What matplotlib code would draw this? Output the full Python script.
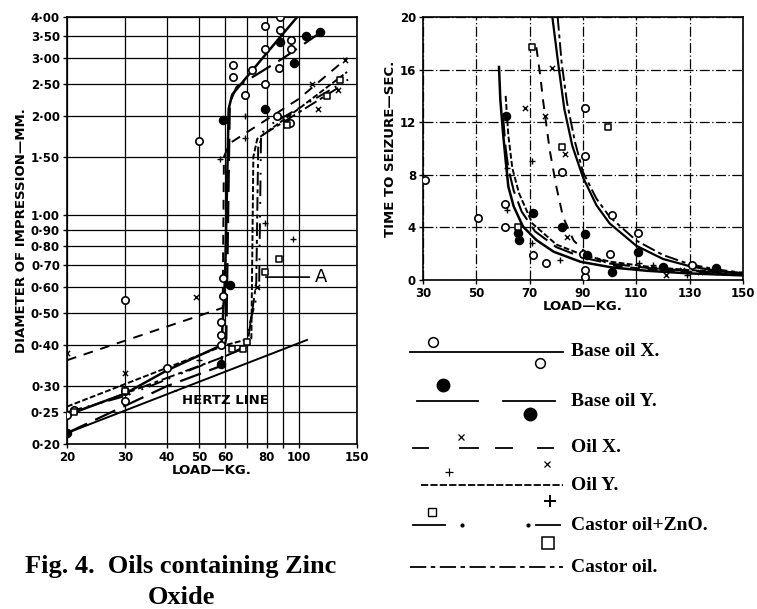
import matplotlib
matplotlib.use("Agg")
import matplotlib.pyplot as plt
from matplotlib.ticker import FixedLocator, NullFormatter, NullLocator

# ---------------- left chart: diameter of impression vs load (log-log) ----------------
HERTZ_X = [20, 106]
HERTZ_Y = [0.216, 0.415]

BASE_X_LX = [20, 30, 40, 58.5, 60, 61.5, 63, 80, 100]
BASE_X_LY = [0.245, 0.285, 0.335, 0.40, 0.65, 2.1, 2.32, 3.1, 4.05]
BASE_Y_LX = [20, 40, 58, 60.5, 62, 65, 90, 117]
BASE_Y_LY = [0.216, 0.30, 0.345, 0.42, 2.2, 2.45, 3.0, 3.6]
OIL_X_LX = [20, 59, 59.5, 62, 100, 140]
OIL_X_LY = [0.36, 0.52, 1.5, 1.65, 2.25, 3.0]
OIL_Y_LX = [20, 60, 72, 73, 75, 100, 140]
OIL_Y_LY = [0.26, 0.40, 0.42, 1.5, 1.7, 2.1, 2.72]
CASTOR_ZNO_LX = [20, 30, 68, 76, 77, 80, 143]
CASTOR_ZNO_LY = [0.25, 0.28, 0.39, 0.60, 1.75, 1.85, 2.6]
CASTOR_LX = [20, 60, 70, 74.5, 75.5, 78, 133]
CASTOR_LY = [0.245, 0.37, 0.40, 0.62, 1.6, 1.75, 2.45]

BASE_X_PX = [20, 21, 30, 30, 30, 40, 50, 58.5, 58.5, 58.5, 59, 59, 63.5, 63.5, 69, 72.5,
             79, 79, 79, 86, 88, 88, 87, 94, 95, 95, 101]
BASE_X_PY = [0.245, 0.254, 0.29, 0.27, 0.55, 0.34, 1.68, 0.47, 0.43, 0.40, 0.64, 0.566,
             2.85, 2.62, 2.31, 2.75, 3.75, 3.2, 2.5, 2.0, 4.0, 3.65, 2.8, 1.9, 3.4, 3.2, 4.1]
BASE_Y_PX = [20, 58.5, 59, 62, 79, 88, 96.5, 105, 116]
BASE_Y_PY = [0.216, 0.35, 1.94, 0.61, 2.1, 3.35, 2.9, 3.5, 3.6]
OIL_X_PX = [20, 30, 49, 75, 110, 114, 131, 138]
OIL_X_PY = [0.38, 0.33, 0.56, 0.6, 2.5, 2.1, 2.4, 2.95]
OIL_Y_PX = [50, 58, 69, 69, 79, 80, 96]
OIL_Y_PY = [0.36, 1.48, 1.71, 2.0, 0.94, 2.1, 0.84]
CASTOR_ZNO_PX = [21, 30, 63, 68, 70, 79, 87, 92, 122, 133]
CASTOR_ZNO_PY = [0.25, 0.29, 0.39, 0.39, 0.41, 0.67, 0.73, 1.87, 2.3, 2.57]

LEFT_XTICKS = [20, 30, 40, 50, 60, 80, 100, 150]
LEFT_XMINOR = [70, 90]
LEFT_YTICKS = [0.20, 0.25, 0.30, 0.40, 0.50, 0.60, 0.70, 0.80, 0.90, 1.00,
               1.50, 2.00, 2.50, 3.00, 3.50, 4.00]

# ---------------- right chart: time to seizure vs load ----------------
T_BASE_X_X = [58.5, 59, 60, 61, 62, 64, 67.5, 72.5, 79, 89, 101, 114, 130, 150]
T_BASE_X_Y = [16.2, 13.7, 11.2, 9.1, 7.1, 5.6, 4.06, 3.04, 2.15, 1.39, 0.95, 0.7, 0.5, 0.35]
T_BASE_Y_X = [60, 61, 62, 64, 67, 72, 80, 90, 100, 115, 130, 150]
T_BASE_Y_Y = [12.5, 10, 8.5, 6.8, 5.2, 3.7, 2.5, 1.7, 1.25, 0.9, 0.7, 0.5]
T_OIL_Y_X = [61, 62, 63.5, 66, 71, 80, 90, 100, 115, 130, 150]
T_OIL_Y_Y = [14, 11, 8.5, 6.6, 4.3, 2.7, 1.9, 1.4, 1.0, 0.75, 0.55]
T_OIL_X_X = [72.5, 74, 75, 77.5, 80, 82.5, 86.5, 91.5, 101, 115, 130, 150]
T_OIL_X_Y = [17.7, 15.5, 13.7, 9.9, 7.1, 4.8, 3.0, 2.0, 1.1, 0.8, 0.6, 0.45]
T_CASTOR_ZNO_X = [78.5, 81, 83, 86, 90, 95, 100, 110, 120, 130, 140, 150]
T_CASTOR_ZNO_Y = [20, 16, 13, 10.2, 7.8, 5.7, 4.3, 2.6, 1.6, 1.05, 0.7, 0.5]
T_CASTOR_X = [80.5, 82, 84, 87, 90, 95, 100, 110, 120, 130, 140, 150]
T_CASTOR_Y = [20, 16.5, 13.5, 10.5, 8.2, 6.2, 4.8, 3.0, 1.9, 1.2, 0.8, 0.55]

TB_X_PX = [30.75, 50.75, 60.75, 60.75, 71.4, 76, 82, 90.75, 90.75, 100.75, 110.5, 100,
           130.75, 90.75, 90.75, 90]
TB_X_PY = [7.6, 4.7, 4.06, 5.8, 1.9, 1.27, 8.24, 13.05, 9.4, 4.94, 3.6, 2.0, 1.14, 0.25,
           0.76, 2.0]
TB_Y_PX = [61, 65.75, 66, 71.4, 82, 90.75, 91.4, 101, 110.5, 120, 140]
TB_Y_PY = [12.5, 3.55, 3.04, 5.07, 4.06, 3.5, 1.9, 0.63, 2.15, 1.0, 0.89]
TZNO_PX = [71, 99.5, 82, 65.75]
TZNO_PY = [17.7, 11.6, 10.1, 4.06]
TOX_PX = [68.25, 75.75, 78.25, 83.25, 83.9, 121, 127, 134, 141]
TOX_PY = [13.05, 12.5, 16.1, 9.6, 3.3, 0.38, 0.76, 0.63, 0.63]
TOY_PX = [61.4, 61.4, 71, 71, 81.4, 111, 116.4, 128.9]
TOY_PY = [8.5, 5.3, 9.05, 2.8, 1.5, 1.27, 1.14, 0.38]

RIGHT_XTICKS = [30, 50, 70, 90, 110, 130, 150]
RIGHT_YTICKS = [0, 4, 8, 12, 16, 20]

LEGEND_NAMES = ["Base oil X.", "Base oil Y.", "Oil X.", "Oil Y.", "Castor oil+ZnO.", "Castor oil."]

# line styles
LS_BASE_X = "-"
LS_BASE_Y = (0, (10, 4))
LS_OIL_X = (0, (5, 4))
LS_OIL_Y = (0, (3, 1.2))
LS_ZNO = (0, (8, 3, 1, 6, 1, 3))
LS_CASTOR = (0, (7, 2, 2, 2))

plt.rcParams['font.family'] = ['DejaVu Sans']
fig = plt.figure(figsize=(7.57, 6.09), dpi=100)

# ---------------- left ----------------
ax = fig.add_axes([67/757, 1-444/609, 290/757, 427/609])
ax.set_xscale('log')
ax.set_yscale('log')
ax.set_xlim(20, 150)
ax.set_ylim(0.2, 4.0)
ax.xaxis.set_major_locator(FixedLocator(LEFT_XTICKS))
ax.xaxis.set_minor_locator(FixedLocator(LEFT_XMINOR))
ax.xaxis.set_minor_formatter(NullFormatter())
ax.set_xticklabels([str(v) for v in LEFT_XTICKS])
ax.yaxis.set_major_locator(FixedLocator(LEFT_YTICKS))
ax.yaxis.set_minor_locator(NullLocator())
ax.set_yticklabels([("%.2f" % v).replace(".", "·") for v in LEFT_YTICKS])
ax.grid(True, which='both', color='black', lw=0.9)
ax.tick_params(axis='both', which='both', length=3, width=1, labelsize=8.5, pad=2)
for lab in ax.get_xticklabels() + ax.get_yticklabels():
    lab.set_fontweight('bold')
for s in ax.spines.values():
    s.set_linewidth(1.2)

ax.plot(HERTZ_X, HERTZ_Y, color='black', lw=1.4)
ax.plot(BASE_X_LX, BASE_X_LY, color='black', lw=1.8, ls=LS_BASE_X)
ax.plot(BASE_Y_LX, BASE_Y_LY, color='black', lw=1.6, ls=LS_BASE_Y)
ax.plot(OIL_X_LX, OIL_X_LY, color='black', lw=1.4, ls=LS_OIL_X)
ax.plot(OIL_Y_LX, OIL_Y_LY, color='black', lw=1.4, ls=LS_OIL_Y)
ax.plot(CASTOR_ZNO_LX, CASTOR_ZNO_LY, color='black', lw=1.4, ls=LS_ZNO)
ax.plot(CASTOR_LX, CASTOR_LY, color='black', lw=1.4, ls=LS_CASTOR)

ax.scatter(BASE_X_PX, BASE_X_PY, s=28, facecolors='white', edgecolors='black', lw=1.2, zorder=3)
ax.scatter(BASE_Y_PX, BASE_Y_PY, s=34, color='black', zorder=3)
ax.scatter(OIL_X_PX, OIL_X_PY, s=14, marker='x', color='black', lw=1, zorder=3)
ax.scatter(OIL_Y_PX, OIL_Y_PY, s=22, marker='+', color='black', lw=1, zorder=3)
ax.scatter(CASTOR_ZNO_PX, CASTOR_ZNO_PY, s=24, marker='s', facecolors='white',
           edgecolors='black', lw=1.1, zorder=3)

ax.annotate("HERTZ LINE", xy=(41.5, 0.292), xytext=(44.5, 0.272), fontsize=9.5,
            fontweight='bold', va='center', ha='left',
            arrowprops=dict(arrowstyle='-', color='black', lw=1.2))
ax.annotate("A", xy=(78, 0.645), xytext=(112, 0.645), fontsize=13, va='center',
            ha='left', arrowprops=dict(arrowstyle='-', color='black', lw=1.2))

ax.set_xlabel("LOAD—KG.", fontsize=9.5, fontweight='bold', labelpad=0)
ax.set_ylabel("DIAMETER OF IMPRESSION—MM.", fontsize=9.5, fontweight='bold', labelpad=2)

# ---------------- right ----------------
ax2 = fig.add_axes([423/757, 1-280/609, 320/757, 263/609])
ax2.set_xlim(30, 150)
ax2.set_ylim(0, 20)
ax2.set_xticks(RIGHT_XTICKS)
ax2.set_yticks(RIGHT_YTICKS)
ax2.grid(True, color='black', lw=0.9, ls=(0, (8, 2, 1, 2)))
ax2.tick_params(axis='both', length=3, width=1, labelsize=8.5, pad=2)
for lab in ax2.get_xticklabels() + ax2.get_yticklabels():
    lab.set_fontweight('bold')
for s in ax2.spines.values():
    s.set_linewidth(1.2)

ax2.plot(T_BASE_X_X, T_BASE_X_Y, color='black', lw=1.8, ls=LS_BASE_X)
ax2.plot(T_BASE_Y_X, T_BASE_Y_Y, color='black', lw=1.5, ls=LS_BASE_Y)
ax2.plot(T_OIL_Y_X, T_OIL_Y_Y, color='black', lw=1.4, ls=LS_OIL_Y)
ax2.plot(T_OIL_X_X, T_OIL_X_Y, color='black', lw=1.4, ls=LS_OIL_X)
ax2.plot(T_CASTOR_ZNO_X, T_CASTOR_ZNO_Y, color='black', lw=1.6, ls='-')
ax2.plot(T_CASTOR_X, T_CASTOR_Y, color='black', lw=1.4, ls=LS_CASTOR)

ax2.scatter(TB_X_PX, TB_X_PY, s=28, facecolors='white', edgecolors='black', lw=1.2, zorder=3)
ax2.scatter(TB_Y_PX, TB_Y_PY, s=34, color='black', zorder=3)
ax2.scatter(TZNO_PX, TZNO_PY, s=24, marker='s', facecolors='white', edgecolors='black',
            lw=1.1, zorder=3)
ax2.scatter(TOX_PX, TOX_PY, s=14, marker='x', color='black', lw=1, zorder=3)
ax2.scatter(TOY_PX, TOY_PY, s=22, marker='+', color='black', lw=1, zorder=3)

ax2.set_xlabel("LOAD—KG.", fontsize=9.5, fontweight='bold', labelpad=0)
ax2.set_ylabel("TIME TO SEIZURE—SEC.", fontsize=9.5, fontweight='bold', labelpad=2)

# ---------------- legend (drawn by hand, pixel layout) ----------------
lg = fig.add_axes([400/757, 0, 357/757, 289/609])
lg.set_xlim(400, 757)
lg.set_ylim(609, 320)
lg.axis('off')
serif = ['Liberation Serif', 'DejaVu Serif']

# row 1 base oil X
lg.plot([410, 563], [352, 352], color='black', lw=1.3)
lg.plot([433, 540], [342, 363], 'o', ms=7, mfc='white', mec='black', mew=1.1)
# row 2 base oil Y
lg.plot([417, 478], [401, 401], color='black', lw=1.3)
lg.plot([503, 555], [401, 401], color='black', lw=1.3)
lg.plot([443, 530], [385, 414], 'o', ms=9, color='black')
# row 3 oil X
for a, b in [(413, 428), (460, 478), (496, 512), (538, 553)]:
    lg.plot([a, b], [448, 448], color='black', lw=1.3)
lg.plot([461, 547], [437, 464], 'x', ms=5, color='black', mew=0.9)
# row 4 oil Y
lg.plot([421, 563], [485, 485], color='black', lw=1.3, ls=(0, (4, 1.2)))
lg.plot([449], [472], '+', ms=6, color='black', mew=0.9)
lg.plot([550], [501], '+', ms=9, color='black', mew=1.4)
# row 5 castor oil + ZnO
lg.plot([413, 445], [525, 525], color='black', lw=1.3)
lg.plot([536, 560], [525, 525], color='black', lw=1.3)
lg.plot([462, 528], [525, 525], '.', ms=4, color='black')
lg.plot([432], [512], 's', ms=6, mfc='white', mec='black', mew=1.0)
lg.plot([548], [543], 's', ms=8, mfc='white', mec='black', mew=1.1)
# row 6 castor oil
lg.plot([410, 563], [567, 567], color='black', lw=1.3, ls=(0, (9, 2.5, 2.5, 2.5)))

for name, yy in zip(LEGEND_NAMES, [352, 401, 448, 485, 525, 567]):
    lg.text(571, yy, name, family=serif, fontsize=14, fontweight='bold', va='center', ha='left')

# ---------------- caption ----------------
fig.text(181/757, 1-567/609, "Fig. 4.  Oils containing Zinc", family=serif, fontsize=19,
         fontweight='bold', ha='center', va='center')
fig.text(181/757, 1-597/609, "Oxide", family=serif, fontsize=19, fontweight='bold',
         ha='center', va='center')

fig.savefig("out.png", dpi=100)
